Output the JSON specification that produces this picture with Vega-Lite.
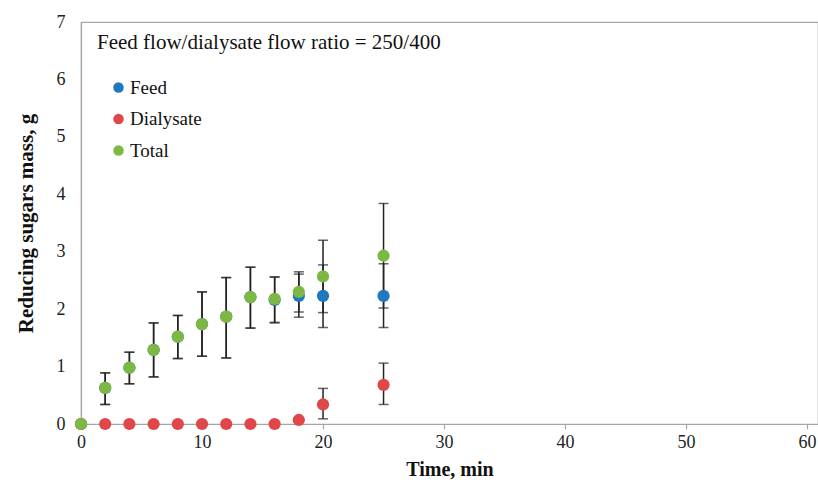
{
  "$schema": "https://vega.github.io/schema/vega-lite/v6.json",
  "autosize": "none",
  "width": 737,
  "height": 402,
  "padding": {"left": 81, "top": 22, "right": 0, "bottom": 64},
  "background": "white",
  "config": {
    "view": {"stroke": "#a6a6a6", "strokeWidth": 1.2},
    "font": "Times New Roman, Liberation Serif, serif"
  },
  "data": {
    "values": [
      {"series": "Feed", "t": 0, "v": 0, "lo": null, "hi": null},
      {"series": "Feed", "t": 2, "v": 0.63, "lo": 0.34, "hi": 0.89},
      {"series": "Feed", "t": 4, "v": 0.98, "lo": 0.70, "hi": 1.25},
      {"series": "Feed", "t": 6, "v": 1.29, "lo": 0.82, "hi": 1.76},
      {"series": "Feed", "t": 8, "v": 1.52, "lo": 1.14, "hi": 1.89},
      {"series": "Feed", "t": 10, "v": 1.74, "lo": 1.18, "hi": 2.30},
      {"series": "Feed", "t": 12, "v": 1.87, "lo": 1.15, "hi": 2.55},
      {"series": "Feed", "t": 14, "v": 2.21, "lo": 1.67, "hi": 2.73},
      {"series": "Feed", "t": 16, "v": 2.16, "lo": 1.76, "hi": 2.56},
      {"series": "Feed", "t": 18, "v": 2.23, "lo": 1.86, "hi": 2.61},
      {"series": "Feed", "t": 20, "v": 2.23, "lo": 1.68, "hi": 2.77},
      {"series": "Feed", "t": 25, "v": 2.23, "lo": 1.68, "hi": 2.79},
      {"series": "Dialysate", "t": 0, "v": 0, "lo": null, "hi": null},
      {"series": "Dialysate", "t": 2, "v": 0, "lo": null, "hi": null},
      {"series": "Dialysate", "t": 4, "v": 0, "lo": null, "hi": null},
      {"series": "Dialysate", "t": 6, "v": 0, "lo": null, "hi": null},
      {"series": "Dialysate", "t": 8, "v": 0, "lo": null, "hi": null},
      {"series": "Dialysate", "t": 10, "v": 0, "lo": null, "hi": null},
      {"series": "Dialysate", "t": 12, "v": 0, "lo": null, "hi": null},
      {"series": "Dialysate", "t": 14, "v": 0, "lo": null, "hi": null},
      {"series": "Dialysate", "t": 16, "v": 0, "lo": null, "hi": null},
      {"series": "Dialysate", "t": 18, "v": 0.07, "lo": null, "hi": null},
      {"series": "Dialysate", "t": 20, "v": 0.34, "lo": 0.09, "hi": 0.62},
      {"series": "Dialysate", "t": 25, "v": 0.68, "lo": 0.34, "hi": 1.06},
      {"series": "Total", "t": 0, "v": 0, "lo": null, "hi": null},
      {"series": "Total", "t": 2, "v": 0.63, "lo": 0.34, "hi": 0.89},
      {"series": "Total", "t": 4, "v": 0.98, "lo": 0.70, "hi": 1.25},
      {"series": "Total", "t": 6, "v": 1.29, "lo": 0.82, "hi": 1.76},
      {"series": "Total", "t": 8, "v": 1.52, "lo": 1.14, "hi": 1.89},
      {"series": "Total", "t": 10, "v": 1.74, "lo": 1.18, "hi": 2.30},
      {"series": "Total", "t": 12, "v": 1.87, "lo": 1.15, "hi": 2.55},
      {"series": "Total", "t": 14, "v": 2.21, "lo": 1.67, "hi": 2.73},
      {"series": "Total", "t": 16, "v": 2.18, "lo": 1.77, "hi": 2.56},
      {"series": "Total", "t": 18, "v": 2.30, "lo": 1.95, "hi": 2.65},
      {"series": "Total", "t": 20, "v": 2.57, "lo": 1.94, "hi": 3.20},
      {"series": "Total", "t": 25, "v": 2.93, "lo": 2.02, "hi": 3.84}
    ]
  },
  "encoding": {
    "x": {
      "field": "t", "type": "quantitative",
      "scale": {"domain": [0, 60.9], "nice": false, "zero": false},
      "axis": {
        "title": "Time, min", "values": [0, 10, 20, 30, 40, 50, 60],
        "grid": false, "domain": true, "domainColor": "#a6a6a6", "domainWidth": 1.2,
        "ticks": true, "tickColor": "#a6a6a6", "tickSize": 5, "tickWidth": 1.2,
        "labelFlush": false, "labelOverlap": false,
        "labelFont": "Times New Roman, Liberation Serif, serif", "labelFontSize": 18, "labelColor": "#222222",
        "labelPadding": 4,
        "titleFont": "Times New Roman, Liberation Serif, serif", "titleFontSize": 20, "titleFontWeight": "bold",
        "titleColor": "#111111", "titlePadding": 8
      }
    },
    "y": {
      "type": "quantitative",
      "scale": {"domain": [0, 7], "nice": false},
      "axis": {
        "title": "Reducing sugars mass, g", "values": [0, 1, 2, 3, 4, 5, 6, 7],
        "grid": false, "domain": true, "domainColor": "#a6a6a6", "domainWidth": 1.2,
        "ticks": false, "labelPadding": 16,
        "labelFlush": false, "labelOverlap": false,
        "labelFont": "Times New Roman, Liberation Serif, serif", "labelFontSize": 18, "labelColor": "#222222",
        "titleFont": "Times New Roman, Liberation Serif, serif", "titleFontSize": 21, "titleFontWeight": "bold",
        "titleColor": "#111111", "titlePadding": 20
      }
    }
  },
  "layer": [
    {
      "transform": [{"filter": "datum.lo != null"}],
      "mark": {"type": "rule", "color": "#222222", "strokeWidth": 1.5},
      "encoding": {"y": {"field": "lo", "type": "quantitative"}, "y2": {"field": "hi"}}
    },
    {
      "transform": [{"filter": "datum.lo != null"}],
      "mark": {"type": "tick", "orient": "horizontal", "color": "#222222", "size": 10, "thickness": 1.5},
      "encoding": {"y": {"field": "lo", "type": "quantitative"}}
    },
    {
      "transform": [{"filter": "datum.hi != null"}],
      "mark": {"type": "tick", "orient": "horizontal", "color": "#222222", "size": 10, "thickness": 1.5},
      "encoding": {"y": {"field": "hi", "type": "quantitative"}}
    },
    {
      "mark": {"type": "circle", "size": 150, "opacity": 1},
      "encoding": {
        "y": {"field": "v", "type": "quantitative"},
        "color": {
          "field": "series", "type": "nominal",
          "scale": {"domain": ["Feed", "Dialysate", "Total"], "range": ["#1f78c0", "#e0474b", "#7db843"]},
          "legend": {
            "title": "Feed flow/dialysate flow ratio = 250/400",
            "orient": "none", "legendX": 16, "legendY": 10,
            "titleFont": "Times New Roman, Liberation Serif, serif", "titleFontSize": 21, "titleFontWeight": "normal",
            "titleColor": "#111111", "titlePadding": 25, "titleLimit": 700,
            "labelFont": "Times New Roman, Liberation Serif, serif", "labelFontSize": 19, "labelColor": "#111111",
            "symbolType": "circle", "symbolSize": 110, "symbolOffset": 12,
            "labelOffset": 2, "rowPadding": 11.5
          }
        }
      }
    }
  ]
}
